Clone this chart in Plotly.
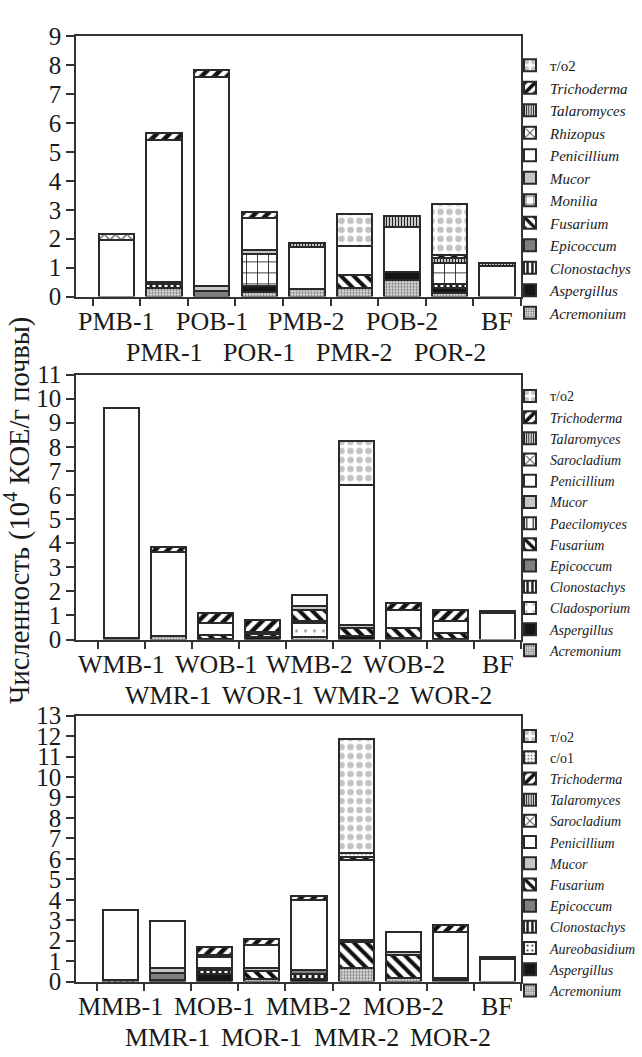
import plotly.graph_objects as go

# ---------------- Panel 1 ----------------
P1_CATS = ["PMB-1", "PMR-1", "POB-1", "POR-1", "PMB-2", "PMR-2", "POB-2", "POR-2", "BF"]
P1_ACREMONIUM = [None, 0.30, None, 0.16, 0.27, 0.28, 0.56, 0.11, None]
P1_ASPERGILLUS = [None, None, None, 0.20, None, None, 0.28, 0.19, None]
P1_CLONOSTACHYS = [None, 0.15, None, None, None, None, None, 0.14, None]
P1_EPICOCCUM = [None, None, 0.18, None, None, None, None, None, None]
P1_FUSARIUM = [None, None, None, None, None, 0.47, None, None, None]
P1_MONILIA = [None, None, None, 1.10, None, None, None, 0.71, None]
P1_MUCOR = [None, 0.07, 0.18, 0.16, None, None, None, None, None]
P1_PENICILLIUM = [1.94, 4.88, 7.24, 1.10, 1.46, 0.99, 1.55, None, 1.04]
P1_RHIZOPUS = [0.24, None, None, None, None, None, None, None, None]
P1_TALAROMYCES = [None, None, None, None, 0.12, None, 0.39, 0.18, 0.12]
P1_TRICHODERMA = [None, 0.25, 0.22, 0.22, None, None, None, 0.10, None]
P1_TO2 = [None, None, None, None, None, 1.13, None, 1.78, None]

# ---------------- Panel 2 ----------------
P2_CATS = ["WMB-1", "WMR-1", "WOB-1", "WOR-1", "WMB-2", "WMR-2", "WOB-2", "WOR-2", "BF"]
P2_ACREMONIUM = [0.06, 0.14, None, None, 0.10, None, None, None, None]
P2_ASPERGILLUS = [None, None, 0.04, 0.10, None, 0.15, 0.05, 0.04, None]
P2_CLADOSPORIUM = [None, None, None, None, 0.60, None, None, None, None]
P2_CLONOSTACHYS = [None, None, None, None, 0.08, None, None, None, None]
P2_EPICOCCUM = [None, None, None, None, None, None, None, None, None]
P2_FUSARIUM = [None, None, 0.14, 0.14, 0.44, 0.35, 0.44, 0.23, None]
P2_PAECILOMYCES = [None, None, None, None, None, None, None, None, None]
P2_MUCOR = [None, None, None, 0.08, 0.16, 0.12, None, None, None]
P2_PENICILLIUM = [9.56, 3.48, 0.52, None, 0.46, 5.81, 0.73, 0.50, 1.10]
P2_SAROCLADIUM = [None, None, None, None, None, None, None, None, None]
P2_TALAROMYCES = [None, None, None, None, None, None, None, None, 0.09]
P2_TRICHODERMA = [None, 0.23, 0.41, 0.49, None, None, 0.28, 0.45, None]
P2_TO2 = [None, None, None, None, None, 1.80, None, None, None]

# ---------------- Panel 3 ----------------
P3_CATS = ["MMB-1", "MMR-1", "MOB-1", "MOR-1", "MMB-2", "MMR-2", "MOB-2", "MOR-2", "BF"]
P3_ACREMONIUM = [None, None, None, 0.15, None, 0.67, 0.20, 0.08, None]
P3_ASPERGILLUS = [None, 0.10, 0.38, None, 0.15, None, None, None, None]
P3_AUREOBASIDIUM = [None, None, None, None, None, None, None, None, None]
P3_CLONOSTACHYS = [0.08, None, 0.19, None, 0.22, None, None, 0.12, None]
P3_EPICOCCUM = [None, 0.34, None, None, 0.18, None, None, None, None]
P3_FUSARIUM = [None, None, None, 0.39, None, 1.27, 1.10, None, None]
P3_MUCOR = [None, 0.23, 0.10, 0.13, None, 0.11, 0.15, None, None]
P3_PENICILLIUM = [3.41, 2.31, 0.53, 1.11, 3.45, 3.89, 0.96, 2.22, 1.10]
P3_SAROCLADIUM = [None, None, None, None, None, None, None, None, None]
P3_TALAROMYCES = [None, None, 0.08, None, None, None, None, None, 0.10]
P3_TRICHODERMA = [None, None, 0.42, 0.32, 0.19, 0.16, None, 0.34, None]
P3_CO1 = [None, None, None, None, None, 0.20, None, None, None]
P3_TO2 = [None, None, None, None, None, 5.54, None, None, None]

Y_TITLE = "Численность (10<sup>4</sup> КОЕ/г почвы)"

# stacking order bottom -> top
PANELS = [
    (P1_CATS, [("Acremonium", P1_ACREMONIUM), ("Aspergillus", P1_ASPERGILLUS),
               ("Clonostachys", P1_CLONOSTACHYS), ("Epicoccum", P1_EPICOCCUM),
               ("Fusarium", P1_FUSARIUM), ("Monilia", P1_MONILIA), ("Mucor", P1_MUCOR),
               ("Penicillium", P1_PENICILLIUM), ("Rhizopus", P1_RHIZOPUS),
               ("Talaromyces", P1_TALAROMYCES), ("Trichoderma", P1_TRICHODERMA),
               ("т/о2", P1_TO2)], 9),
    (P2_CATS, [("Acremonium", P2_ACREMONIUM), ("Aspergillus", P2_ASPERGILLUS),
               ("Cladosporium", P2_CLADOSPORIUM), ("Clonostachys", P2_CLONOSTACHYS),
               ("Epicoccum", P2_EPICOCCUM), ("Fusarium", P2_FUSARIUM),
               ("Paecilomyces", P2_PAECILOMYCES), ("Mucor", P2_MUCOR),
               ("Penicillium", P2_PENICILLIUM), ("Sarocladium", P2_SAROCLADIUM),
               ("Talaromyces", P2_TALAROMYCES), ("Trichoderma", P2_TRICHODERMA),
               ("т/о2", P2_TO2)], 11),
    (P3_CATS, [("Acremonium", P3_ACREMONIUM), ("Aspergillus", P3_ASPERGILLUS),
               ("Aureobasidium", P3_AUREOBASIDIUM), ("Clonostachys", P3_CLONOSTACHYS),
               ("Epicoccum", P3_EPICOCCUM), ("Fusarium", P3_FUSARIUM), ("Mucor", P3_MUCOR),
               ("Penicillium", P3_PENICILLIUM), ("Sarocladium", P3_SAROCLADIUM),
               ("Talaromyces", P3_TALAROMYCES), ("Trichoderma", P3_TRICHODERMA),
               ("с/о1", P3_CO1), ("т/о2", P3_TO2)], 13),
]

# name -> (background, pattern shape, fg colour, size, solidity)
STYLE = {
    "Acremonium": ("#dcdcdc", ".", "#6e6e6e", 3, 0.4),
    "Aspergillus": ("#151515", "", None, None, None),
    "Aureobasidium": ("white", ".", "#333333", 6, 0.15),
    "Cladosporium": ("white", ".", "#9a9a9a", 9, 0.08),
    "Clonostachys": ("white", "|", "#1a1a1a", 6, 0.5),
    "Epicoccum": ("#7f7f7f", "", None, None, None),
    "Fusarium": ("white", "\\", "#111111", 9, 0.45),
    "Monilia": ("white", "+", "#222222", 11, 0.15),
    "Paecilomyces": ("white", "|", "#222222", 8, 0.2),
    "Mucor": ("#c6c6c6", "", None, None, None),
    "Penicillium": ("white", "", None, None, None),
    "Rhizopus": ("white", "x", "#555555", 8, 0.3),
    "Sarocladium": ("white", "x", "#555555", 8, 0.3),
    "Talaromyces": ("white", "|", "#222222", 3, 0.5),
    "Trichoderma": ("white", "/", "#111111", 9, 0.5),
    "с/о1": ("white", ".", "#8a8a8a", 4, 0.3),
    "т/о2": ("white", ".", "#c2c2c2", 9, 0.42),
}

FONT = "Liberation Serif, Times New Roman, serif"
W, H = 642, 1057
X0, X1 = 76 / W, 521 / W
DOMAINS = [(1 - 291 / H, 1 - 24 / H), (1 - 643 / H, 1 - 371 / H), (1 - 994 / H, 1 - 721 / H)]
LEG_TOP = [37, 377, 726]
LEG_FONT = [15, 14, 14]

fig = go.Figure()
annotations = []
layout = {}
for i, (cats, series, ymax) in enumerate(PANELS):
    n = "" if i == 0 else str(i + 1)
    leg = "legend" + n
    for name, vals in series:
        bg, shape, fg, size, sol = STYLE[name]
        pattern = dict(shape=shape)
        if shape:
            pattern.update(fgcolor=fg, bgcolor=bg, size=size, solidity=sol, fillmode="replace")
        label = name if name in ("т/о2", "с/о1") else "<i>%s</i>" % name
        fig.add_trace(go.Bar(
            x=cats, y=vals, name=label, xaxis="x" + n, yaxis="y" + n, legend=leg,
            marker=dict(color=bg, pattern=pattern, line=dict(color="#2a2a2a", width=2)),
        ))
    d0, d1 = DOMAINS[i]
    layout["xaxis" + n] = dict(
        domain=[X0, X1], anchor="y" + n, type="category", categoryorder="array",
        categoryarray=cats, showticklabels=False, ticks="outside", tickson="boundaries",
        ticklen=8, tickwidth=1.5, tickcolor="#333", showline=True, linecolor="#333",
        linewidth=1.5, mirror=True, showgrid=False, zeroline=False,
    )
    layout["yaxis" + n] = dict(
        domain=[d0, d1], anchor="x" + n, range=[0, ymax], dtick=1, tick0=0,
        ticks="outside", ticklen=8, tickwidth=1.5, tickcolor="#333", showline=True,
        linecolor="#333", linewidth=1.5, mirror=True, showgrid=False, zeroline=False,
        tickfont=dict(family=FONT, size=25, color="#1a1a1a"),
    )
    layout[leg] = dict(
        x=510 / W, xanchor="left", y=1 - LEG_TOP[i] / H, yanchor="top",
        traceorder="reversed", bgcolor="rgba(0,0,0,0)", borderwidth=0,
        font=dict(family=FONT, size=LEG_FONT[i], color="#1a1a1a"),
        tracegroupgap=0,
    )
    for j, c in enumerate(cats):
        annotations.append(dict(
            x=c, xref="x" + n, y=d0, yref="paper", yanchor="top",
            yshift=-8 if j % 2 == 0 else -39, text=c, showarrow=False,
            font=dict(family=FONT, size=26, color="#1a1a1a"),
        ))

annotations.append(dict(
    x=18 / W, y=1 - 511 / H, xref="paper", yref="paper", text=Y_TITLE,
    textangle=-90, showarrow=False, xanchor="center", yanchor="middle",
    font=dict(family=FONT, size=28.5, color="#1a1a1a"),
))

fig.update_layout(
    width=W, height=H, margin=dict(l=0, r=0, t=0, b=0),
    paper_bgcolor="white", plot_bgcolor="white",
    barmode="stack", bargap=0.255, annotations=annotations, **layout,
)
fig.write_html("out.html")
